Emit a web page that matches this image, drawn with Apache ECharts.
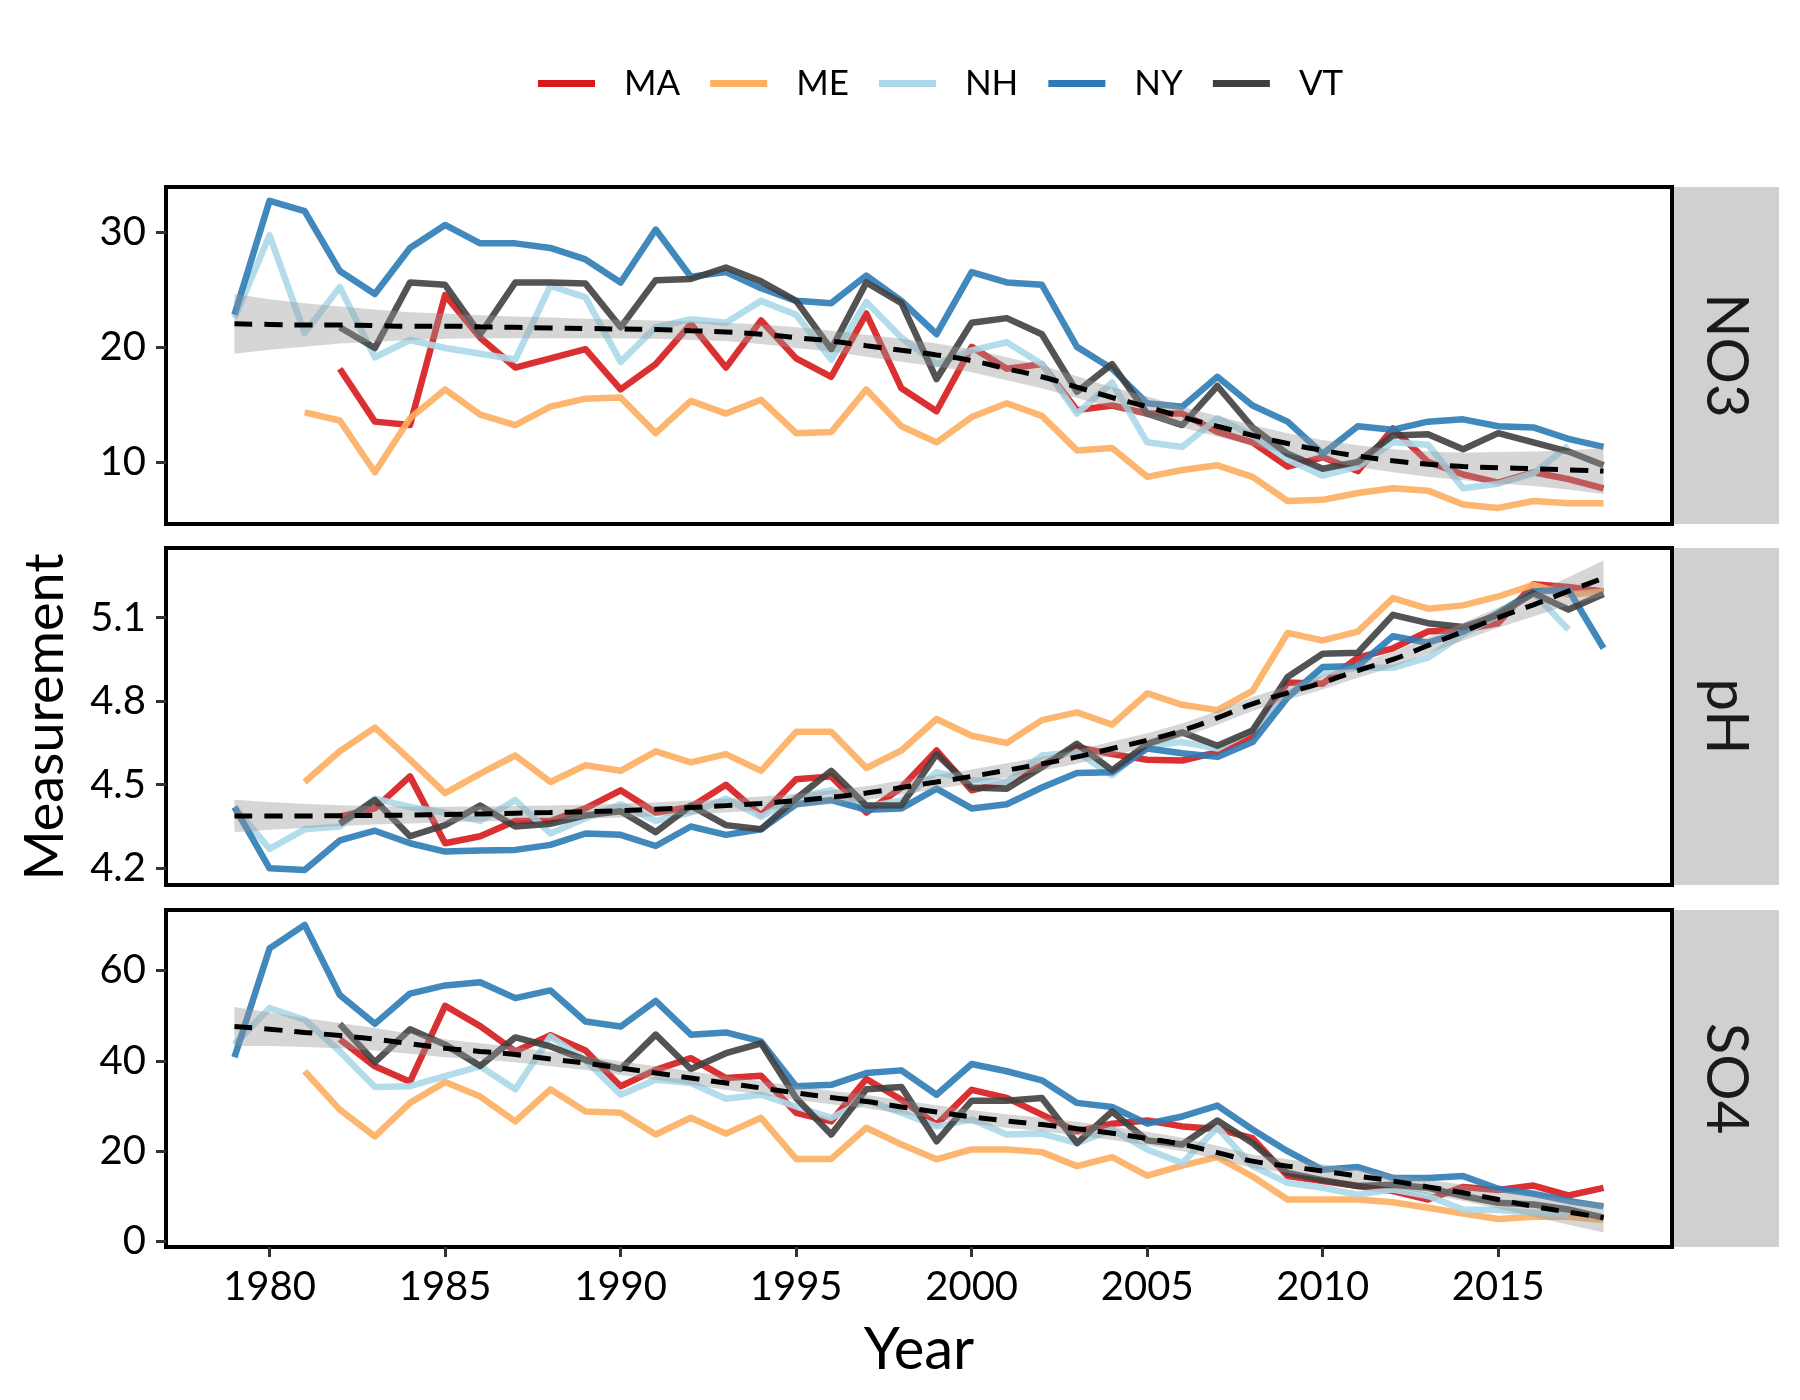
<!DOCTYPE html>
<html>
<head>
<meta charset="utf-8">
<script src="https://cdn.jsdelivr.net/npm/echarts@6/dist/echarts.min.js"></script>
<style>
  html, body { margin: 0; padding: 0; background: #fff; }
  #chart { width: 1800px; height: 1400px; }
</style>
</head>
<body>
<div id="chart"></div>
<script>
const years = [1979, 1980, 1981, 1982, 1983, 1984, 1985, 1986, 1987, 1988,
  1989, 1990, 1991, 1992, 1993, 1994, 1995, 1996, 1997, 1998,
  1999, 2000, 2001, 2002, 2003, 2004, 2005, 2006, 2007, 2008,
  2009, 2010, 2011, 2012, 2013, 2014, 2015, 2016, 2017, 2018];

const states = ['MA', 'ME', 'NH', 'NY', 'VT'];
const stateColors = ['#d7191c', '#fdae61', '#abd9e9', '#2c7bb6', '#404040'];
const panels = ['NO3', 'pH', 'SO4'];

// NO3
const no3MA = [null, null, null, 18.1, 13.5, 13.2, 24.5, 20.8, 18.2, 19.0, 19.8, 16.3, 18.5, 22.0, 18.2, 22.3, 19.0, 17.4, 22.9, 16.4, 14.4, 20.0, 18.1, 18.5, 14.5, 14.9, 14.2, 14.2, 12.6, 11.7, 9.6, 10.4, 9.2, 12.9, 10.0, 8.9, 8.2, 9.1, 8.5, 7.7];
const no3ME = [null, null, 14.3, 13.6, 9.1, 13.8, 16.3, 14.1, 13.2, 14.8, 15.5, 15.6, 12.5, 15.3, 14.2, 15.4, 12.5, 12.6, 16.3, 13.1, 11.7, 13.9, 15.1, 14.0, 11.0, 11.2, 8.7, 9.3, 9.7, 8.7, 6.6, 6.7, 7.3, 7.7, 7.5, 6.3, 6.0, 6.6, 6.4, 6.4];
const no3NH = [22.5, 29.7, 21.2, 25.2, 19.1, 20.6, 19.9, 19.4, 18.9, 25.3, 24.3, 18.7, 21.7, 22.4, 22.1, 24.0, 22.8, 18.9, 23.9, 20.8, 18.5, 19.7, 20.4, 18.5, 14.2, 16.9, 11.7, 11.3, 13.8, 12.3, 10.2, 8.8, 9.6, 11.7, 11.5, 7.7, 8.1, 9.0, 11.4, null];
const no3NY = [22.8, 32.7, 31.8, 26.6, 24.6, 28.6, 30.6, 29.0, 29.0, 28.6, 27.6, 25.6, 30.2, 26.1, 26.5, 25.1, 24.0, 23.8, 26.2, 24.0, 21.1, 26.5, 25.6, 25.4, 20.0, 18.1, 15.1, 14.8, 17.4, 14.9, 13.5, 10.7, 13.1, 12.8, 13.5, 13.7, 13.1, 13.0, 12.0, 11.3];
const no3VT = [null, null, null, 21.7, 19.9, 25.6, 25.4, 21.1, 25.6, 25.6, 25.5, 21.7, 25.8, 25.9, 26.9, 25.7, 24.0, 19.8, 25.6, 23.8, 17.2, 22.1, 22.5, 21.1, 16.1, 18.5, 14.2, 13.2, 16.6, 13.0, 10.7, 9.4, 10.0, 12.3, 12.4, 11.1, 12.5, 11.7, 10.9, 9.7];
const no3Fit = [22.0, 21.95, 21.9, 21.9, 21.85, 21.8, 21.8, 21.75, 21.7, 21.65, 21.6, 21.55, 21.5, 21.4, 21.3, 21.1, 20.8, 20.5, 20.1, 19.7, 19.3, 18.8, 18.1, 17.4, 16.5, 15.6, 14.8, 13.9, 13.1, 12.3, 11.6, 11.0, 10.5, 10.1, 9.8, 9.6, 9.5, 9.4, 9.3, 9.2];
const no3Se = [2.6, 2.2, 1.9, 1.6, 1.4, 1.2, 1.1, 1.0, 0.95, 0.9, 0.85, 0.8, 0.8, 0.8, 0.8, 0.85, 0.9, 0.9, 0.95, 1.0, 1.0, 1.0, 1.0, 1.0, 0.95, 0.9, 0.9, 0.9, 0.9, 0.9, 0.9, 0.9, 0.95, 1.0, 1.1, 1.2, 1.35, 1.5, 1.7, 2.0];

// pH
const phMA = [null, null, null, 4.385, 4.415, 4.53, 4.29, 4.315, 4.37, 4.37, 4.415, 4.48, 4.40, 4.42, 4.50, 4.39, 4.52, 4.53, 4.40, 4.49, 4.623, 4.48, 4.51, 4.57, 4.635, 4.61, 4.59, 4.587, 4.617, 4.676, 4.867, 4.863, 4.956, 4.99, 5.05, 5.057, 5.08, 5.22, 5.21, 5.194];
const phME = [null, null, 4.51, 4.62, 4.705, 4.59, 4.47, 4.54, 4.605, 4.51, 4.57, 4.55, 4.62, 4.58, 4.61, 4.55, 4.69, 4.69, 4.56, 4.623, 4.736, 4.676, 4.65, 4.732, 4.76, 4.716, 4.828, 4.787, 4.768, 4.837, 5.045, 5.018, 5.05, 5.17, 5.132, 5.144, 5.176, 5.218, 5.182, 5.194];
const phNH = [4.42, 4.27, 4.34, 4.35, 4.45, 4.42, 4.40, 4.37, 4.445, 4.325, 4.38, 4.43, 4.37, 4.40, 4.45, 4.385, 4.455, 4.48, 4.42, 4.444, 4.545, 4.516, 4.51, 4.605, 4.617, 4.534, 4.64, 4.653, 4.63, 4.695, 4.825, 4.902, 4.92, 4.92, 4.956, 5.04, 5.11, 5.188, 5.057, null];
const phNY = [4.42, 4.20, 4.194, 4.30, 4.335, 4.29, 4.26, 4.264, 4.266, 4.284, 4.325, 4.32, 4.28, 4.35, 4.32, 4.34, 4.43, 4.445, 4.41, 4.415, 4.486, 4.415, 4.43, 4.49, 4.542, 4.545, 4.63, 4.613, 4.60, 4.653, 4.813, 4.923, 4.926, 5.033, 5.01, 5.05, 5.117, 5.194, 5.2, 4.99];
const phVT = [null, null, null, 4.36, 4.445, 4.315, 4.355, 4.425, 4.35, 4.36, 4.39, 4.405, 4.33, 4.425, 4.355, 4.34, 4.45, 4.55, 4.425, 4.426, 4.61, 4.49, 4.486, 4.563, 4.647, 4.552, 4.647, 4.688, 4.64, 4.695, 4.887, 4.97, 4.974, 5.11, 5.08, 5.066, 5.11, 5.188, 5.129, 5.185];
const phFit = [4.388, 4.388, 4.388, 4.389, 4.39, 4.391, 4.393, 4.395, 4.398, 4.40, 4.403, 4.407, 4.412, 4.418, 4.425, 4.433, 4.443, 4.455, 4.47, 4.49, 4.51, 4.53, 4.552, 4.575, 4.60, 4.63, 4.66, 4.695, 4.74, 4.79, 4.83, 4.867, 4.91, 4.95, 5.0, 5.05, 5.10, 5.146, 5.195, 5.242];
const phSe = [0.058, 0.05, 0.043, 0.037, 0.033, 0.03, 0.028, 0.027, 0.026, 0.025, 0.025, 0.025, 0.025, 0.025, 0.025, 0.025, 0.025, 0.025, 0.025, 0.025, 0.025, 0.025, 0.025, 0.025, 0.025, 0.025, 0.025, 0.025, 0.025, 0.025, 0.025, 0.025, 0.026, 0.027, 0.029, 0.032, 0.036, 0.042, 0.05, 0.063];

// SO4
const so4MA = [null, null, null, 44.8, 38.8, 35.4, 52.2, 47.7, 42.1, 45.7, 42.3, 34.4, 38.0, 40.6, 36.2, 36.7, 28.5, 26.6, 36.0, 31.4, 25.9, 33.6, 31.8, 28.1, 24.4, 26.1, 26.8, 25.5, 24.9, 22.9, 14.5, 13.4, 12.3, 11.2, 9.3, 12.1, 11.4, 12.4, 10.2, 11.9];
const so4ME = [null, null, 37.7, 29.2, 23.3, 30.7, 35.3, 32.1, 26.6, 33.7, 28.8, 28.5, 23.7, 27.4, 23.9, 27.4, 18.3, 18.3, 25.2, 21.5, 18.2, 20.4, 20.4, 19.8, 16.7, 18.7, 14.6, 16.8, 18.7, 14.4, 9.3, 9.3, 9.3, 8.7, 7.5, 6.2, 5.0, 5.5, 5.5, 4.8];
const so4NH = [43.6, 51.7, 49.1, 42.1, 34.2, 34.4, 36.6, 38.8, 33.7, 45.4, 40.2, 32.5, 35.8, 35.1, 31.6, 32.5, 29.9, 27.4, 31.3, 28.5, 25.5, 27.0, 23.7, 23.9, 21.8, 24.8, 20.4, 17.4, 25.2, 16.7, 13.0, 11.9, 10.4, 11.5, 10.1, 7.1, 7.0, 6.4, 6.0, null];
const so4NY = [40.8, 64.9, 70.1, 54.6, 48.2, 54.9, 56.7, 57.4, 53.9, 55.6, 48.7, 47.6, 53.3, 45.8, 46.3, 44.3, 34.4, 34.7, 37.3, 37.9, 32.5, 39.3, 37.7, 35.7, 30.7, 29.8, 26.1, 27.7, 30.1, 24.8, 20.0, 15.9, 16.5, 14.1, 14.1, 14.5, 11.7, 10.6, 9.0, 7.8];
const so4VT = [null, null, null, 48.2, 39.7, 47.0, 43.6, 38.9, 45.2, 43.2, 40.2, 38.2, 45.8, 38.2, 41.7, 43.9, 31.8, 23.7, 33.7, 34.2, 22.2, 31.2, 31.2, 31.8, 21.8, 28.8, 22.4, 21.5, 26.8, 21.8, 15.2, 13.6, 12.3, 12.6, 11.9, 10.1, 8.6, 8.2, 7.1, 5.3];
const so4Fit = [47.6, 47.0, 46.3, 45.6, 44.8, 43.8, 42.8, 42.1, 41.4, 40.4, 39.5, 38.4, 37.3, 36.2, 35.1, 34.0, 32.9, 31.9, 31.0, 29.8, 28.7, 27.6, 26.7, 25.9, 25.0, 24.0, 22.8, 21.5, 19.7, 17.8, 16.7, 15.6, 14.5, 13.4, 12.1, 10.8, 9.3, 7.8, 6.5, 5.3];
const so4Se = [4.3, 3.7, 3.2, 2.8, 2.5, 2.2, 2.0, 1.8, 1.7, 1.6, 1.5, 1.5, 1.5, 1.5, 1.5, 1.5, 1.5, 1.5, 1.5, 1.5, 1.5, 1.5, 1.5, 1.5, 1.5, 1.5, 1.5, 1.5, 1.5, 1.5, 1.5, 1.5, 1.5, 1.5, 1.6, 1.8, 2.0, 2.3, 2.8, 3.3];

// tick labels
const xTicks = [1980, 1985, 1990, 1995, 2000, 2005, 2010, 2015];
const no3Ticks = [10, 20, 30];
const phTicks = [4.2, 4.5, 4.8, 5.1];
const so4Ticks = [0, 20, 40, 60];

const panelValues = [
  [no3MA, no3ME, no3NH, no3NY, no3VT],
  [phMA, phME, phNH, phNY, phVT],
  [so4MA, so4ME, so4NH, so4NY, so4VT]
];
const panelFit = [no3Fit, phFit, so4Fit];
const panelSe = [no3Se, phSe, so4Se];
const panelTicks = [no3Ticks, phTicks, so4Ticks];
const panelRange = [[4.6, 33.9], [4.14, 5.35], [-1.2, 73.4]];

const FONT = 'Lato';
const gridLeft = 166, gridWidth = 1506, gridHeight = 337;
const gridTops = [187, 548, 910];

const chart = echarts.init(document.getElementById('chart'), null, { renderer: 'canvas' });

const grids = [], xAxes = [], yAxes = [], series = [], graphics = [];

panels.forEach((p, i) => {
  grids.push({
    left: gridLeft, top: gridTops[i], width: gridWidth, height: gridHeight,
    show: true, borderColor: '#000', borderWidth: 4, backgroundColor: '#fff'
  });
  const bottom = i === panels.length - 1;
  xAxes.push({
    type: 'value', gridIndex: i, min: 1977.05, max: 2019.95,
    axisLine: { show: true, onZero: false, lineStyle: { color: '#000', width: 4 } },
    axisTick: { show: bottom, length: 10, customValues: xTicks, lineStyle: { color: '#333', width: 3 } },
    axisLabel: {
      show: bottom, customValues: xTicks, margin: 20,
      fontFamily: FONT, fontSize: 40, color: '#000',
      formatter: v => String(v)
    },
    splitLine: { show: false }
  });
  yAxes.push({
    type: 'value', gridIndex: i, min: panelRange[i][0], max: panelRange[i][1],
    axisLine: { show: true, onZero: false, lineStyle: { color: '#000', width: 4 } },
    axisTick: { show: true, length: 10, customValues: panelTicks[i], lineStyle: { color: '#333', width: 3 } },
    axisLabel: {
      customValues: panelTicks[i], margin: 20,
      fontFamily: FONT, fontSize: 40, color: '#000',
      formatter: v => (p === 'pH' ? v.toFixed(1) : String(v))
    },
    splitLine: { show: false }
  });

  // state lines
  states.forEach((s, k) => {
    const vals = panelValues[i][k];
    series.push({
      name: s, type: 'line', xAxisIndex: i, yAxisIndex: i,
      data: years.map((y, j) => [y, vals[j]]),
      symbol: 'none', connectNulls: false, color: stateColors[k],
      lineStyle: { width: 6.5, opacity: 0.9, join: 'round' },
      emphasis: { disabled: true }, z: 2
    });
  });

  // smoother confidence band, drawn through the axes' scales
  const fit = panelFit[i], se = panelSe[i];
  series.push({
    type: 'custom', xAxisIndex: i, yAxisIndex: i,
    data: years.map((y, j) => [y, fit[j] - se[j], fit[j] + se[j]]),
    encode: { x: 0, y: [1, 2] },
    renderItem: (params, api) => {
      if (params.dataIndex !== 0) return null;
      const upper = years.map((y, j) => api.coord([y, fit[j] + se[j]]));
      const lower = years.map((y, j) => api.coord([y, fit[j] - se[j]])).reverse();
      return {
        type: 'polygon',
        shape: { points: upper.concat(lower) },
        style: { fill: 'rgba(153,153,153,0.4)' }
      };
    },
    clip: true, silent: true, z: 3
  });
  // fitted dashed line
  series.push({
    type: 'line', xAxisIndex: i, yAxisIndex: i,
    data: years.map((y, j) => [y, fit[j]]),
    symbol: 'none', smooth: true,
    lineStyle: { color: '#000', width: 5, type: [18, 12] },
    silent: true, z: 4
  });

  // facet strip
  graphics.push({
    type: 'rect', left: gridLeft + gridWidth + 2, top: gridTops[i],
    shape: { width: 105, height: gridHeight },
    style: { fill: '#d0d0d0' }, silent: true
  });
  graphics.push({
    type: 'text', x: gridLeft + gridWidth + 54, y: gridTops[i] + gridHeight / 2,
    rotation: -Math.PI / 2,
    style: {
      text: p, fontFamily: FONT, fontSize: 58, fill: '#1a1a1a',
      align: 'center', verticalAlign: 'middle'
    }
  });
});

graphics.push({
  type: 'text', x: gridLeft + gridWidth / 2, y: 1350,
  style: { text: 'Year', fontFamily: FONT, fontSize: 58, fill: '#000', align: 'center', verticalAlign: 'middle' }
});
graphics.push({
  type: 'text', x: 46, y: (gridTops[0] + gridTops[2] + gridHeight) / 2,
  rotation: Math.PI / 2,
  style: { text: 'Measurement', fontFamily: FONT, fontSize: 54, fill: '#000', align: 'center', verticalAlign: 'middle' }
});

chart.setOption({
  animation: false,
  backgroundColor: '#fff',
  textStyle: { fontFamily: FONT },
  legend: {
    data: states, left: 533, top: 61, icon: 'rect',
    itemWidth: 57, itemHeight: 7, itemGap: 30,
    textStyle: { fontFamily: FONT, fontSize: 35, color: '#000', padding: [0, 0, 0, 24] }
  },
  grid: grids,
  xAxis: xAxes,
  yAxis: yAxes,
  series: series,
  graphic: graphics
});
</script>
</body>
</html>
